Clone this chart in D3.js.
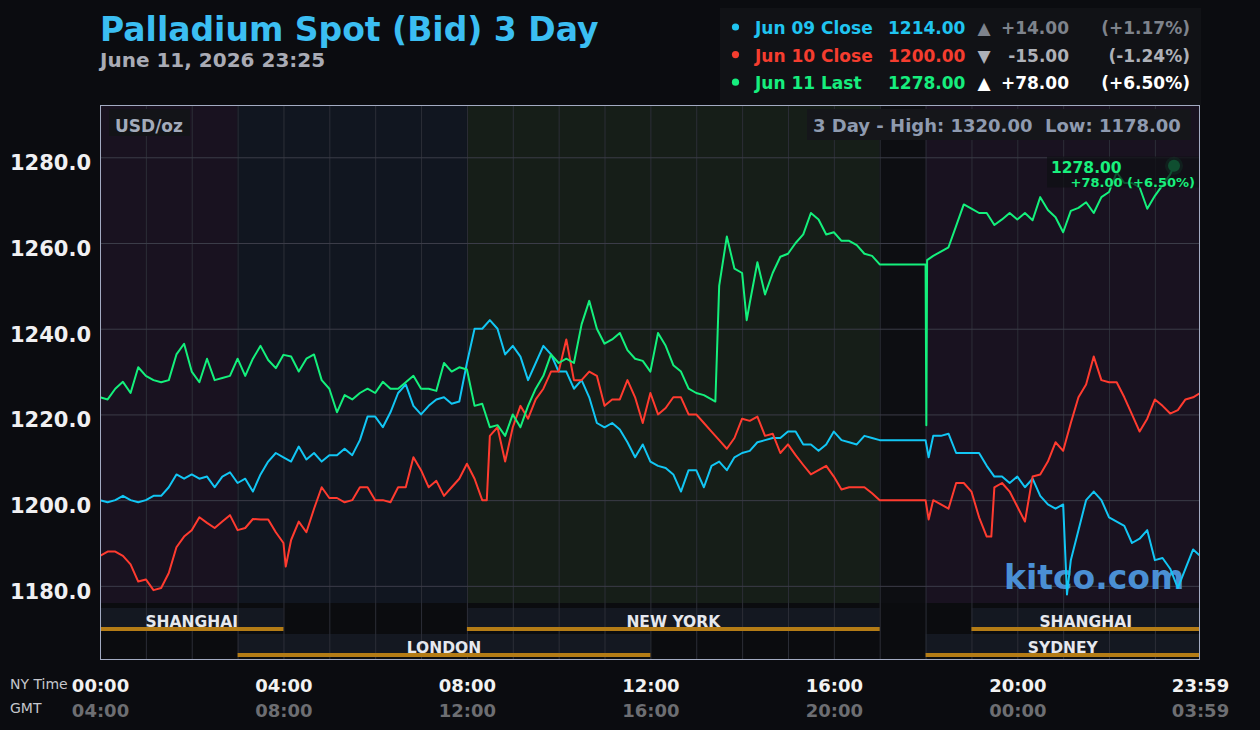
<!DOCTYPE html>
<html>
<head>
<meta charset="utf-8">
<script src="https://cdn.jsdelivr.net/npm/d3@7"></script>
<style>
  body { margin: 0; background: #0b0c10; }
  svg { display: block; font-family: "DejaVu Sans", sans-serif; font-weight: bold; }
</style>
</head>
<body>
<svg id="chart"></svg>
<script>
// ---- data (10 minute steps, NY time minutes) ----
const jun09 = [
  1200, 1199.5, 1200, 1201, 1200, 1199.5, 1200, 1201, 1201, 1203, 1206, 1205,
  1206, 1205, 1205.5, 1203, 1205.5, 1206.5, 1204, 1205, 1202, 1206, 1209, 1211,
  1210, 1209, 1212.5, 1209.5, 1211, 1209, 1210.5, 1210.5, 1212, 1210.5, 1214, 1219.5,
  1219.5, 1217, 1220.5, 1225, 1227, 1222, 1220, 1222, 1223.5, 1224, 1222.5, 1223,
  1232, 1240, 1240, 1242, 1240, 1234, 1236, 1233.5, 1228, 1232, 1236, 1234,
  1230, 1230, 1226, 1228, 1224, 1218, 1217, 1218, 1216.5, 1213.5, 1210, 1213,
  1209, 1208, 1207.5, 1206, 1202, 1207, 1207, 1203, 1208, 1209, 1207, 1210,
  1211, 1211.5, 1213.5, 1214, 1214.5, 1214.5, 1216, 1216, 1213, 1213, 1211.5, 1213,
  1216, 1214, 1213.5, 1213, 1215, 1214.5, 1214, 1214, 1214, 1214, 1214, 1214,
  1214, 1215, 1215, 1215.5, 1211, 1211, 1211, 1211, 1208, 1205.5, 1205.5, 1204,
  1205.5, 1203, 1205, 1201, 1199, 1198, 1199, 1186, 1193, 1200, 1202, 1200,
  1196, 1195, 1194, 1190, 1191, 1193, 1186, 1186.5, 1184, 1179.5, 1184, 1188.5
];
const jun09Last = [1439, 1187];
const jun09Extra = [[1084, 1210], [1265, 1178]];

const jun10 = [
  1187, 1188, 1188, 1187, 1185, 1181, 1181.5, 1179, 1179.5, 1183, 1189, 1191.5,
  1193, 1196, 1194.7, 1193.5, 1195, 1196.5, 1193, 1193.5, 1195.6, 1195.5, 1195.5, 1192.5,
  1190, 1190.7, 1195, 1192.5, 1198, 1203, 1200.5, 1200.5, 1199.5, 1200, 1203, 1203,
  1200, 1200, 1199.5, 1203, 1203, 1210, 1207, 1203, 1204.5, 1201, 1203, 1205,
  1208.5, 1205, 1200, 1215, 1217, 1209, 1217, 1222, 1219, 1223.5, 1226, 1230,
  1230, 1237.5, 1228, 1228, 1230, 1229, 1222, 1223.5, 1223.5, 1228, 1224, 1218,
  1225, 1220, 1221.5, 1224, 1224, 1220, 1220, 1218, 1216, 1214, 1212, 1214.5,
  1219, 1218.5, 1219.5, 1215, 1215.5, 1211, 1213, 1210.5, 1208.2, 1206, 1207, 1208,
  1205.5, 1202.5, 1203, 1203, 1203, 1201.6, 1200, 1200, 1200, 1200, 1200, 1200,
  1200, 1200, 1199, 1198, 1204, 1204, 1202, 1196, 1191.5, 1203, 1204, 1202,
  1198.5, 1195, 1205.5, 1206, 1209, 1213.5, 1211.5, 1218, 1224, 1227, 1233.5, 1228,
  1227.5, 1227.5, 1224, 1220, 1216, 1219, 1223.5, 1222, 1220.2, 1221, 1223.5, 1224
];
const jun10Last = [1439, 1225];
const jun10Extra = [[243, 1184.5], [506, 1200], [1084, 1195.5], [1166, 1191.5]];

const jun11 = [
  1224, 1223.5, 1226, 1227.6, 1225, 1231, 1229, 1228, 1227.5, 1228, 1234, 1236.5,
  1230, 1227.5, 1233, 1228, 1228.5, 1229, 1233, 1229, 1233, 1236, 1232.7, 1230.8,
  1233.9, 1233.5, 1230, 1233, 1234, 1228, 1226, 1220.5, 1224.5, 1223.5, 1225, 1226,
  1225, 1227.6, 1226, 1226, 1227.5, 1229, 1226, 1226, 1225.5, 1232, 1230, 1231,
  1230.5, 1222, 1222.5, 1217, 1217.5, 1215, 1220, 1217, 1222, 1226, 1229, 1234,
  1232, 1233, 1232, 1241, 1246.5, 1240, 1236.5, 1237.5, 1239, 1235, 1233, 1232.5,
  1230, 1239, 1236, 1231.5, 1230, 1226, 1225, 1224.5, 1223.5, 1250, 1261.5, 1254,
  1253, 1246, 1255.5, 1248, 1253, 1256.8, 1257.5, 1260, 1262, 1267, 1265.5, 1262,
  1262.5, 1260.5, 1260.5, 1259.5, 1257.5, 1257, 1255, 1255, 1255, 1255, 1255, 1255,
  1255, 1257, 1258, 1259, 1264, 1269, 1268, 1267, 1267, 1264.2, 1265.5, 1267,
  1265.5, 1267, 1265.3, 1270.7, 1267.7, 1266, 1262.5, 1267.5, 1268.2, 1269.5, 1267, 1270.7,
  1271.9, 1276.5, 1274, 1274, 1273, 1268, 1271, 1273.5, 1276
];
const jun11Last = [1405, 1278];
const jun11Extra = [[805, 1223], [846, 1242], [1081, 1217.5], [1082, 1256]];

const priceTicks = [1180, 1200, 1220, 1240, 1260, 1280];
const timeTicks = [0, 240, 480, 720, 960, 1200, 1439];
const nyLabels = ["00:00", "04:00", "08:00", "12:00", "16:00", "20:00", "23:59"];
const gmtLabels = ["04:00", "08:00", "12:00", "16:00", "20:00", "00:00", "03:59"];

const zones = [
  { from: 0, to: 180, fill: "#191220" },
  { from: 180, to: 480, fill: "#111620" },
  { from: 480, to: 1020, fill: "#161e18" },
  { from: 1020, to: 1080, fill: "#0d0e12" },
  { from: 1080, to: 1439, fill: "#191220" },
];
const sessionsTop = [
  { name: "SHANGHAI", from: 0, to: 240 },
  { name: "NEW YORK", from: 480, to: 1020 },
  { name: "SHANGHAI", from: 1140, to: 1439 },
];
const sessionsBottom = [
  { name: "LONDON", from: 180, to: 720 },
  { name: "SYDNEY", from: 1080, to: 1439 },
];

const legendNames = ["Jun 09 Close", "Jun 10 Close", "Jun 11 Last"];
const legendPrices = ["1214.00", "1200.00", "1278.00"];
const legendArrows = ["\u25B2", "\u25BC", "\u25B2"];
const legendChanges = ["+14.00", "-15.00", "+78.00"];
const legendPcts = ["(+1.17%)", "(-1.24%)", "(+6.50%)"];

// ---- layout ----
const width = 1260;
const height = 730;
const plotLeft = 100;
const plotRight = 1200;
const plotTop = 105;
const lineBottom = 603;
const plotBottom = 660;

const colors = ["#12c6f4", "#ff3b2f", "#14f07c"];
const legendColors = ["#20c4f0", "#f53d2f", "#16ee7e"];
const changeColors = ["#7e838c", "#aeb1b8", "#ffffff"];

const svg = d3.select("#chart").attr("width", width).attr("height", height);

const x = d3.scaleLinear().domain([0, 1439]).range([plotLeft, plotRight]);
const y = d3.scaleLinear().domain([1176, 1292.2]).range([lineBottom, plotTop]);

const build = (vals, last, extra) =>
  vals.map((v, i) => [i * 10, v]).concat([last], extra).sort((a, b) => a[0] - b[0]);

// title
svg.append("text").attr("x", 100).attr("y", 41)
  .attr("font-size", 33).attr("fill", "#3bbef2")
  .text("Palladium Spot (Bid) 3 Day");
svg.append("text").attr("x", 100).attr("y", 67)
  .attr("font-size", 20).attr("fill", "#a9abb5")
  .text("June 11, 2026 23:25");

// legend
svg.append("rect").attr("x", 720).attr("y", 8).attr("width", 481).attr("height", 97)
  .attr("fill", "#111216");
const rows = svg.append("g").attr("font-size", 17);
legendNames.forEach((name, i) => {
  const by = 34 + i * 27.6;
  rows.append("circle").attr("cx", 735.5).attr("cy", by - 7).attr("r", 3.6)
    .attr("fill", legendColors[i]);
  rows.append("text").attr("x", 755).attr("y", by).attr("fill", legendColors[i]).text(name);
  rows.append("text").attr("x", 888).attr("y", by).attr("fill", legendColors[i]).text(legendPrices[i]);
  rows.append("text").attr("x", 984).attr("y", by).attr("text-anchor", "middle")
    .attr("fill", changeColors[i]).text(legendArrows[i]);
  rows.append("text").attr("x", 1069).attr("y", by).attr("text-anchor", "end")
    .attr("fill", changeColors[i]).text(legendChanges[i]);
  rows.append("text").attr("x", 1190).attr("y", by).attr("text-anchor", "end")
    .attr("fill", changeColors[i]).text(legendPcts[i]);
});

// background zones
svg.append("g").selectAll("rect").data(zones).enter().append("rect")
  .attr("x", (d) => x(d.from)).attr("width", (d) => x(d.to) - x(d.from))
  .attr("y", plotTop).attr("height", lineBottom - plotTop)
  .attr("fill", (d) => d.fill);

svg.append("rect").attr("x", plotLeft).attr("y", lineBottom)
  .attr("width", plotRight - plotLeft).attr("height", plotBottom - lineBottom)
  .attr("fill", "#0b0c0f");

const drawBands = (data, bandY) => {
  svg.append("g").selectAll("rect").data(data).enter().append("rect")
    .attr("x", (d) => x(d.from)).attr("width", (d) => x(d.to) - x(d.from))
    .attr("y", bandY).attr("height", 19).attr("fill", "#141821");
};
drawBands(sessionsTop, 608);
drawBands(sessionsBottom, 634);

// grid
svg.append("g").attr("transform", `translate(0,${plotBottom})`)
  .call(d3.axisBottom(x).tickValues(d3.range(60, 1440, 60)).tickSize(-(plotBottom - plotTop)).tickFormat(""))
  .call((g) => g.select(".domain").remove())
  .selectAll("line").attr("stroke", "#2c2e37");

svg.append("g").attr("transform", `translate(${plotLeft},0)`)
  .call(d3.axisLeft(y).tickValues(priceTicks).tickSize(-(plotRight - plotLeft)).tickFormat(""))
  .call((g) => g.select(".domain").remove())
  .selectAll("line").attr("stroke", "#3b3c48");

// session labels + bars
const drawLabels = (data, baseY) => {
  const g = svg.append("g");
  g.selectAll("text").data(data).enter().append("text")
    .attr("x", (d) => (x(d.from) + x(d.to)) / 2).attr("y", baseY)
    .attr("text-anchor", "middle").attr("font-size", 15.5).attr("fill", "#e6e8ee")
    .text((d) => d.name);
  g.selectAll("rect").data(data).enter().append("rect")
    .attr("x", (d) => x(d.from)).attr("width", (d) => x(d.to) - x(d.from))
    .attr("y", baseY).attr("height", 4).attr("fill", "#b47c16");
};
drawLabels(sessionsTop, 627);
drawLabels(sessionsBottom, 653);

// watermark
svg.append("text").attr("x", 1004).attr("y", 589)
  .attr("font-size", 33).attr("fill", "#4a8fd4")
  .text("kitco.com");

// corner boxes
svg.append("rect").attr("x", 109).attr("y", 109).attr("width", 81).attr("height", 27)
  .attr("fill", "#131418");
svg.append("text").attr("x", 115).attr("y", 131.5).attr("font-size", 17)
  .attr("fill", "#a3abbb").text("USD/oz");

svg.append("rect").attr("x", 807).attr("y", 109).attr("width", 384).attr("height", 31)
  .attr("fill", "#15161a");
svg.append("text").attr("x", 813).attr("y", 132).attr("font-size", 18)
  .attr("fill", "#8f9bb0").style("white-space", "pre")
  .text("3 Day - High: 1320.00  Low: 1178.00");

// lines
svg.append("clipPath").attr("id", "plot-clip").append("rect")
  .attr("x", plotLeft).attr("y", plotTop).attr("width", plotRight - plotLeft).attr("height", lineBottom - plotTop);

const line = d3.line().x((d) => x(d[0])).y((d) => y(d[1]));
const series = [
  build(jun09, jun09Last, jun09Extra),
  build(jun10, jun10Last, jun10Extra),
  build(jun11, jun11Last, jun11Extra),
];
svg.append("g").attr("clip-path", "url(#plot-clip)")
  .selectAll("path").data(series).enter().append("path")
  .attr("d", line)
  .attr("fill", "none")
  .attr("stroke", (d, i) => colors[i])
  .attr("stroke-width", 2)
  .attr("stroke-linejoin", "round");

// last point marker and label
svg.append("circle").attr("cx", x(jun11Last[0])).attr("cy", y(jun11Last[1]))
  .attr("r", 9).attr("fill", colors[2]).attr("opacity", 0.25);
svg.append("circle").attr("cx", x(jun11Last[0])).attr("cy", y(jun11Last[1]))
  .attr("r", 6).attr("fill", colors[2]);
svg.append("rect").attr("x", 1047).attr("y", 156.5).attr("width", 153).attr("height", 31)
  .attr("fill", "#0e0f13").attr("opacity", 0.72);
svg.append("text").attr("x", 1051).attr("y", 172.5).attr("font-size", 15.5)
  .attr("fill", "#19f07d").text("1278.00");
svg.append("text").attr("x", 1195).attr("y", 186.5).attr("font-size", 13)
  .attr("text-anchor", "end").attr("fill", "#19f07d").text("+78.00 (+6.50%)");

// axes labels
svg.append("g").attr("transform", `translate(${plotLeft},0)`)
  .call(d3.axisLeft(y).tickValues(priceTicks).tickSize(0).tickPadding(9).tickFormat(d3.format(".1f")))
  .call((g) => g.select(".domain").remove())
  .attr("font-family", null).attr("font-size", 21)
  .selectAll("text").attr("dy", "0.59em").attr("fill", "#f0f0f2");

const timeAxis = (labels, ty, fill) => {
  svg.append("g").attr("transform", `translate(0,${plotBottom})`)
    .call(d3.axisBottom(x).tickValues(timeTicks).tickSize(0).tickFormat((d, i) => labels[i]))
    .call((g) => g.select(".domain").remove())
    .attr("font-family", null).attr("font-size", 18)
    .selectAll("text").attr("dy", null).attr("y", ty).attr("fill", fill);
};
timeAxis(nyLabels, 32, "#f2f2f2");
timeAxis(gmtLabels, 57, "#6d6e72");

svg.append("text").attr("x", 10).attr("y", 689).attr("font-size", 14)
  .attr("font-weight", "normal").attr("fill", "#c5c6cc").text("NY Time");
svg.append("text").attr("x", 10).attr("y", 713).attr("font-size", 14)
  .attr("font-weight", "normal").attr("fill", "#c5c6cc").text("GMT");

// plot border
svg.append("rect").attr("x", plotLeft + 0.5).attr("y", plotTop + 0.5)
  .attr("width", plotRight - plotLeft - 1).attr("height", plotBottom - plotTop - 1)
  .attr("fill", "none").attr("stroke", "#a3abc2");
</script>
</body>
</html>
